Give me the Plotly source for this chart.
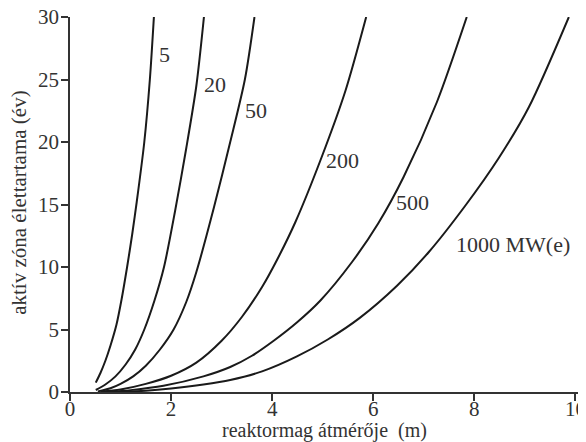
import plotly.graph_objects as go

# Reactor core diameter (m) and core lifetime (years) per power level
power_labels = ["5", "20", "50", "200", "500", "1000 MW(e)"]

d_5 = [0.51, 0.6, 0.7, 0.8, 0.92, 1.02, 1.13, 1.23, 1.32, 1.47, 1.58, 1.66]
t_5 = [0.75, 1.5, 2.5, 3.7, 5.4, 7.4, 10.0, 12.6, 15.2, 20.0, 25.0, 30.0]

d_20 = [0.51, 0.7, 0.9, 1.1, 1.29, 1.47, 1.67, 1.86, 2.08, 2.3, 2.5, 2.65]
t_20 = [0.16, 0.6, 1.25, 2.2, 3.4, 5.0, 7.3, 10.0, 14.5, 19.5, 24.5, 30.0]

d_50 = [0.55, 0.8, 1.0, 1.25, 1.5, 1.78, 2.05, 2.3, 2.5, 2.85, 3.17, 3.46, 3.65]
t_50 = [0.05, 0.3, 0.65, 1.25, 2.1, 3.4, 5.0, 7.2, 9.6, 14.8, 20.0, 25.0, 30.0]

d_200 = [0.6, 1.0, 1.5, 2.0, 2.5, 3.0, 3.4, 3.8, 4.1, 4.46, 4.98, 5.45, 5.86]
t_200 = [0.02, 0.2, 0.65, 1.3, 2.35, 4.1, 6.0, 8.4, 10.6, 13.6, 18.8, 24.1, 30.0]

d_500 = [0.75, 1.2, 1.85, 2.64, 3.17, 3.6, 4.03, 4.5, 4.95, 5.58, 6.1, 6.6, 7.26, 7.85]
t_500 = [0.0, 0.15, 0.5, 1.25, 2.0, 2.9, 4.1, 5.6, 7.3, 10.4, 13.5, 17.2, 23.2, 30.0]

d_1000 = [0.95, 1.5, 2.0, 2.64, 3.17, 3.8, 4.49, 5.1, 5.74, 6.47, 7.1, 7.82, 8.48, 9.08, 9.87]
t_1000 = [0.0, 0.1, 0.28, 0.6, 0.96, 1.65, 2.85, 4.2, 5.95, 8.5, 11.2, 14.9, 18.7, 22.8, 30.0]

series_d = [d_5, d_20, d_50, d_200, d_500, d_1000]
series_t = [t_5, t_20, t_50, t_200, t_500, t_1000]

x_ticks = [0, 2, 4, 6, 8, 10]
y_ticks = [0, 5, 10, 15, 20, 25, 30]

x_title = "reaktormag átmérője  (m)"
y_title = "aktív zóna élettartama (év)"

FONT = "Liberation Serif"
TXT = "#333333"
FS = 22
TICK_FS = 21

fig = go.Figure()
for d, t, name in zip(series_d, series_t, power_labels):
    fig.add_trace(go.Scatter(x=d, y=t, mode="lines", name=name,
                             line=dict(color="#1a1a1a", width=2, shape="spline", smoothing=0.8),
                             showlegend=False, hoverinfo="skip"))

# curve labels
label_pos = [(1.72, 27.0), (2.61, 24.6), (3.43, 22.5), (5.03, 18.5), (6.42, 15.2), (7.6, 11.8)]
for name, (lx, ly) in zip(power_labels, label_pos):
    fig.add_annotation(x=lx, y=ly, text=name, showarrow=False, xanchor="left", yanchor="middle",
                       font=dict(family=FONT, size=FS, color=TXT))

fig.add_annotation(xref="paper", yref="paper", x=0.497, y=-0.103, text=x_title, showarrow=False,
                   xanchor="center", yanchor="middle", font=dict(family=FONT, size=20, color=TXT))
fig.add_annotation(xref="paper", yref="paper", x=-0.101, y=0.505, text=y_title, showarrow=False,
                   textangle=-90, xanchor="center", yanchor="middle",
                   font=dict(family=FONT, size=21, color=TXT))

# page body adds an 8px offset, so the figure is 8px smaller and margins shifted
fig.update_layout(
    width=578, height=434,
    margin=dict(l=62, r=3, t=9, b=50, autoexpand=False),
    paper_bgcolor="white", plot_bgcolor="white",
    font=dict(family=FONT, size=FS, color=TXT),
    xaxis=dict(range=[0, 10.15], tickvals=x_ticks, ticks="outside", ticklen=7, tickwidth=1.5,
               tickcolor="#333", showline=True, linecolor="#333", linewidth=1.5, automargin=False,
               ticklabeloverflow="allow", ticklabelstandoff=-10,
               showgrid=False, zeroline=False, tickfont=dict(family=FONT, size=TICK_FS, color=TXT)),
    yaxis=dict(range=[0, 30], tickvals=y_ticks, ticks="outside", ticklen=7, tickwidth=1.5,
               tickcolor="#333", showline=True, linecolor="#333", linewidth=1.5, automargin=False,
               ticklabeloverflow="allow", ticklabelstandoff=-2,
               showgrid=False, zeroline=False, tickfont=dict(family=FONT, size=TICK_FS, color=TXT)),
)

fig.write_html("out.html")
